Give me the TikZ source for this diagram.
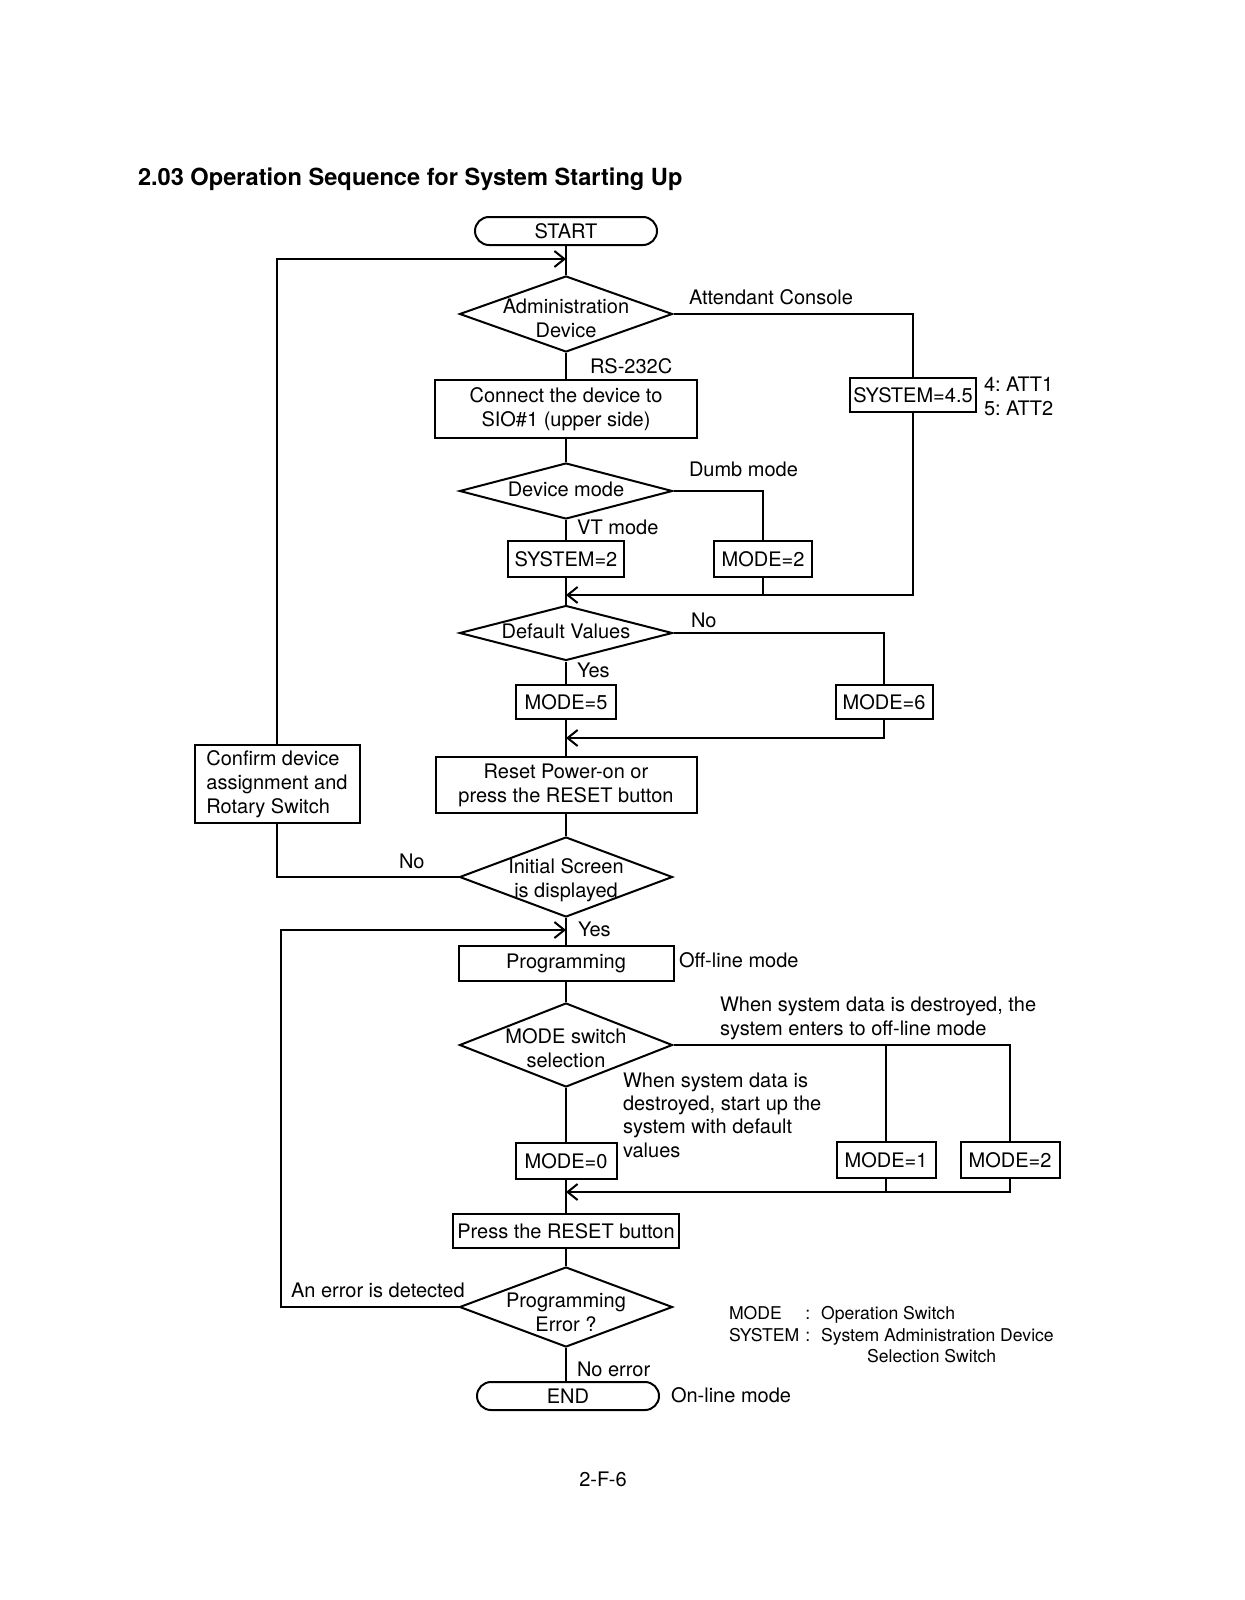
\documentclass[tikz,border=0pt]{standalone}
\usepackage{fontspec}
\setmainfont{TeX Gyre Heros}
\usetikzlibrary{shapes.geometric,shapes.misc,arrows.meta}
\frenchspacing

% text of a decision, taking no room in the diamond
\newcommand\dtext[2][0pt]{\smash{\raisebox{-#1}{\makebox[0pt]{\begin{tabular}{@{}c@{}}#2\end{tabular}}}}}

\begin{document}
\begin{tikzpicture}[x=0.5pt,y=-0.5pt,line width=1pt,
		>={Straight Barb[length=5pt,width=8pt]},
		every node/.style={font=\fontsize{10}{12}\selectfont},
		box/.style={draw, rectangle, inner sep=0pt, align=center, minimum height=17pt},
		term/.style={draw, rounded rectangle, inner sep=0pt, minimum width=91pt, minimum height=14pt},
		decision/.style={draw, diamond, inner sep=0pt, minimum width=106.5pt},
		lbl/.style={anchor=west, inner sep=0pt, align=left}]
		\useasboundingbox (0,0) rectangle (1244,1600);
		\node[anchor=west, inner sep=0pt, font=\fontsize{11.8}{14}\selectfont\bfseries] (title) at (137,179) {2.03 Operation Sequence for System Starting Up};

		\node[term] (start) at (566,231) {START};
		\node[decision, minimum height=38pt] (adm) at (566,314) {\dtext[6pt]{Administration\\Device}};
		\node[box, minimum width=131pt, minimum height=29pt] (conn) at (566,409) {Connect the device to\\SIO\#1 (upper side)};
		\node[box, minimum width=63pt] (sys45) at (913,395) {SYSTEM=4.5};
		\node[decision, minimum height=28pt] (dev) at (566,491) {\dtext[3pt]{Device mode}};
		\node[box, minimum width=58pt, minimum height=18pt] (sys2) at (566,559) {SYSTEM=2};
		\node[box, minimum width=49pt, minimum height=18pt] (mode2a) at (763,559) {MODE=2};
		\node[decision, minimum height=27.5pt] (dflt) at (566,633) {\dtext[3pt]{Default Values}};
		\node[box, minimum width=50pt] (mode5) at (566,702) {MODE=5};
		\node[box, minimum width=48.5pt] (mode6) at (884,702) {MODE=6};
		\node[box, minimum width=130.5pt, minimum height=28pt] (reset) at (566,785) {Reset Power-on or\\press the RESET button};
		\node[box, minimum width=82.5pt, minimum height=39pt, align=left] (confirm) at (277,784) {Confirm device\\assignment and\\Rotary Switch};
		\node[decision, minimum height=40pt] (init) at (566,877) {\dtext[4.25pt]{Initial Screen\\is displayed}};
		\node[box, minimum width=107.5pt, minimum height=17.5pt] (prog) at (566,963) {Programming};
		\node[decision, minimum height=42pt] (msel) at (566,1045) {\dtext[5.25pt]{MODE switch\\selection}};
		\node[box, minimum width=50.5pt, minimum height=18pt] (mode0) at (566,1161) {MODE=0};
		\node[box, minimum width=49.5pt, minimum height=18pt] (mode1) at (886,1160) {MODE=1};
		\node[box, minimum width=49.5pt, minimum height=18pt] (mode2b) at (1010,1160) {MODE=2};
		\node[box, minimum width=113pt] (press) at (566,1231) {Press the RESET button};
		\node[decision, minimum height=40pt] (perr) at (566,1307) {\dtext[6.5pt]{Programming\\Error ?}};
		\node[term] (end) at (568,1396) {END};

		\coordinate (j1) at (566,259);
		\coordinate (j2) at (566,595);
		\coordinate (j3) at (566,738);
		\coordinate (j4) at (566,930);
		\coordinate (j5) at (566,1192);
		\coordinate (lp) at (281,930);

		% main column
		\draw (start) -- (adm);
		\draw (adm) -- (conn);
		\draw (conn) -- (dev);
		\draw (dev) -- (sys2);
		\draw (sys2) -- (dflt);
		\draw (dflt) -- (mode5);
		\draw (mode5) -- (reset);
		\draw (reset) -- (init);
		\draw (init) -- (prog);
		\draw (prog) -- (msel);
		\draw (msel) -- (mode0);
		\draw (mode0) -- (press);
		\draw (press) -- (perr);
		\draw (perr) -- (end.north -| perr);

		% branches
		\draw (adm.east) -| (sys45.north);
		\draw[->] (sys45.south) |- (j2);
		\draw (dev.east) -| (mode2a.north);
		\draw (mode2a) -- (mode2a |- j2);
		\draw (dflt.east) -| (mode6.north);
		\draw[->] (mode6.south) |- (j3);
		\draw (init.west) -| (confirm.south);
		\draw[->] (confirm.north) |- (j1);
		\draw (msel.east) -| (mode2b.north);
		\draw (mode1.north |- msel.east) -- (mode1);
		\draw[->] (mode2b.south) |- (j5);
		\draw (mode1) -- (mode1 |- j5);
		\draw[->] (perr.west) -| (lp) -- (j4);

		% labels
		\node[lbl] (lac) at (688,297) {Attendant Console};
		\node[lbl] (latt) at (983,396) {4: ATT1\\5: ATT2};
		\node[lbl] (lrs) at (589,366) {RS-232C};
		\node[lbl] (ldumb) at (688,469) {Dumb mode};
		\node[lbl] (lvt) at (576,527) {VT mode};
		\node[lbl] (lno1) at (690,620) {No};
		\node[lbl] (lyes1) at (576,670) {Yes};
		\node[lbl] (lno2) at (398,861) {No};
		\node[lbl] (lyes2) at (577,929) {Yes};
		\node[lbl] (loff) at (678,960) {Off-line mode};
		\node[lbl] (loffd) at (719,1018) {When system data is destroyed, the\\system enters to off-line mode};
		\node[lbl, font=\fontsize{10}{11.7}\selectfont] (ldef) at (622,1115) {When system data is\\destroyed, start up the\\system with default\\values};
		\node[lbl] (lerr) at (290,1290) {An error is detected};
		\node[lbl] (lnoerr) at (576,1369) {No error};
		\node[lbl] (lon) at (670,1395) {On-line mode};
		\node[lbl, font=\fontsize{8.8}{10.75}\selectfont] (legend) at (728,1337) {%
			\begin{tabular}{@{}l@{\hspace{3pt}}l@{\hspace{5.5pt}}l@{}}
				MODE & : & Operation Switch\\
				SYSTEM & : & System Administration Device\\
				& & \hspace{23pt}Selection Switch
			\end{tabular}};
		\node (page) at (603,1479) {2-F-6};
	\end{tikzpicture}
\end{document}
